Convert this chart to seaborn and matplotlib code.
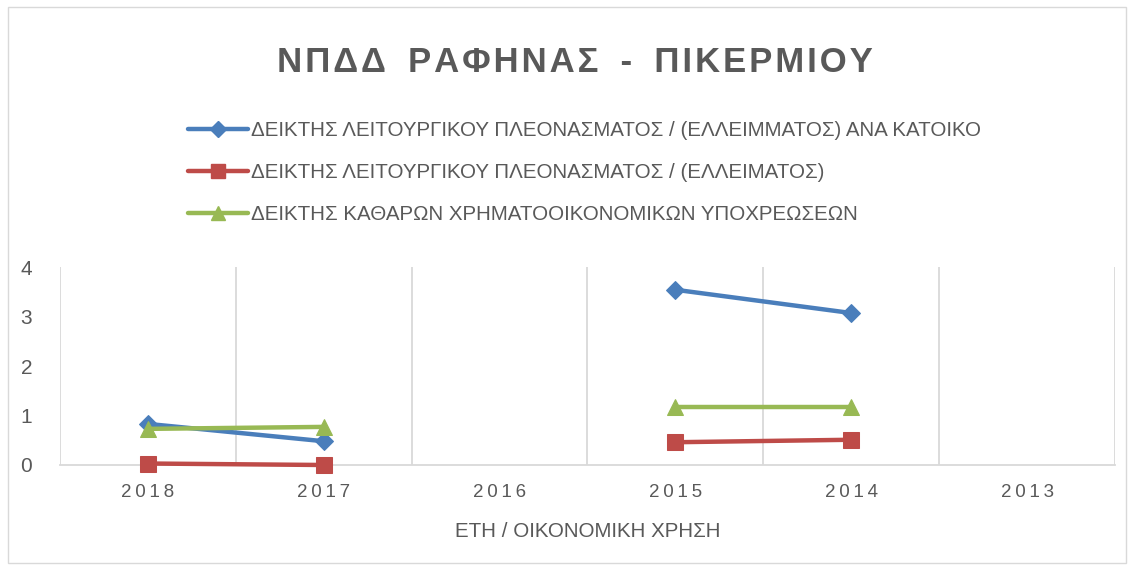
import matplotlib
matplotlib.use("Agg")
import matplotlib.pyplot as plt
import numpy as np
import pandas as pd
import seaborn as sns
from matplotlib.lines import Line2D
from matplotlib.patches import Rectangle

years = ["2018", "2017", "2016", "2015", "2014", "2013"]
series_names = [
    "ΔΕΙΚΤΗΣ ΛΕΙΤΟΥΡΓΙΚΟΥ ΠΛΕΟΝΑΣΜΑΤΟΣ / (ΕΛΛΕΙΜΜΑΤΟΣ) ΑΝΑ ΚΑΤΟΙΚΟ",
    "ΔΕΙΚΤΗΣ ΛΕΙΤΟΥΡΓΙΚΟΥ ΠΛΕΟΝΑΣΜΑΤΟΣ / (ΕΛΛΕΙΜΑΤΟΣ)",
    "ΔΕΙΚΤΗΣ ΚΑΘΑΡΩΝ ΧΡΗΜΑΤΟΟΙΚΟΝΟΜΙΚΩΝ ΥΠΟΧΡΕΩΣΕΩΝ",
]
per_capita = [0.83, 0.48, np.nan, 3.54, 3.07, np.nan]
surplus = [0.03, 0.0, np.nan, 0.46, 0.51, np.nan]
liabilities = [0.73, 0.77, np.nan, 1.17, 1.17, np.nan]

colors = ["#4A7EBB", "#BE4B48", "#98B954"]
markers = ["D", "s", "^"]
msizes = [9, 12, 12]
TEXT = "#595959"
FONT = ["Liberation Sans", "DejaVu Sans"]

# long-form table; "segment" splits runs around missing years so lines break
rows = []
for name, vals in zip(series_names, [per_capita, surplus, liabilities]):
    seg = 0
    for i, v in enumerate(vals):
        if np.isnan(v):
            seg += 1
            continue
        rows.append({"pos": i, "value": v, "series": name, "segment": f"{name}-{seg}"})
df = pd.DataFrame(rows)

sns.set_style("white")
plt.rcParams["font.family"] = FONT

fig = plt.figure(figsize=(11.32, 5.69), dpi=100)
ax = fig.add_axes([60 / 1132, 104 / 569, 1055 / 1132, 198 / 569])

for name, c, m, ms in zip(series_names, colors, markers, msizes):
    sub = df[df["series"] == name]
    sns.lineplot(data=sub, x="pos", y="value", units="segment", estimator=None,
                 color=c, lw=3.2, marker=m, markersize=ms, markeredgecolor=c,
                 ax=ax, legend=False, zorder=3, clip_on=False)

ax.set_xlim(-0.5, len(years) - 0.5)
ax.set_ylim(0, 4)
ax.set_xticks(range(len(years)))
ax.set_xticklabels(["\u2009".join(y) for y in years], color=TEXT, fontsize=13.5)
ax.set_yticks(range(5))
ax.set_yticklabels([str(i) for i in range(5)], color=TEXT, fontsize=15)
ax.tick_params(length=0)
ax.tick_params(axis="x", pad=14)
ax.tick_params(axis="y", pad=20)
for xb in np.arange(-0.5, len(years), 1.0):
    ax.axvline(xb, color="#D9D9D9", lw=1.3, zorder=0)
for s in ["top", "right", "left"]:
    ax.spines[s].set_visible(False)
ax.spines["bottom"].set_color("#D9D9D9")
ax.spines["bottom"].set_linewidth(1.3)
ax.set_xlabel("ΕΤΗ / ΟΙΚΟΝΟΜΙΚΗ ΧΡΗΣΗ", color=TEXT, fontsize=14.8, labelpad=15)
ax.set_ylabel("")

title = "ΝΠΔΔ ΡΑΦΗΝΑΣ - ΠΙΚΕΡΜΙΟΥ"
fig.text(575 / 1132, 1 - 63 / 569, "\u200a".join(title).replace(" \u200a", "  "),
         ha="center", va="center", fontsize=25, fontweight="bold", color=TEXT)

handles = [Line2D([0], [0], color=c, lw=3.2, marker=m, markersize=ms * 0.85,
                  markeredgecolor=c) for c, m, ms in zip(colors, markers, msizes)]
fig.legend(handles, series_names, loc="upper left",
           bbox_to_anchor=(180 / 1132, 1 - 113 / 569), frameon=False,
           fontsize=14.8, labelcolor=TEXT, handlelength=2.9, handletextpad=0.15,
           labelspacing=1.12, borderaxespad=0)

fig.patches.append(Rectangle((8 / 1132, 6 / 569), 1118 / 1132, 556 / 569,
                             transform=fig.transFigure, fill=False,
                             edgecolor="#D9D9D9", lw=1))

fig.savefig("out.png", dpi=100, facecolor="white")
